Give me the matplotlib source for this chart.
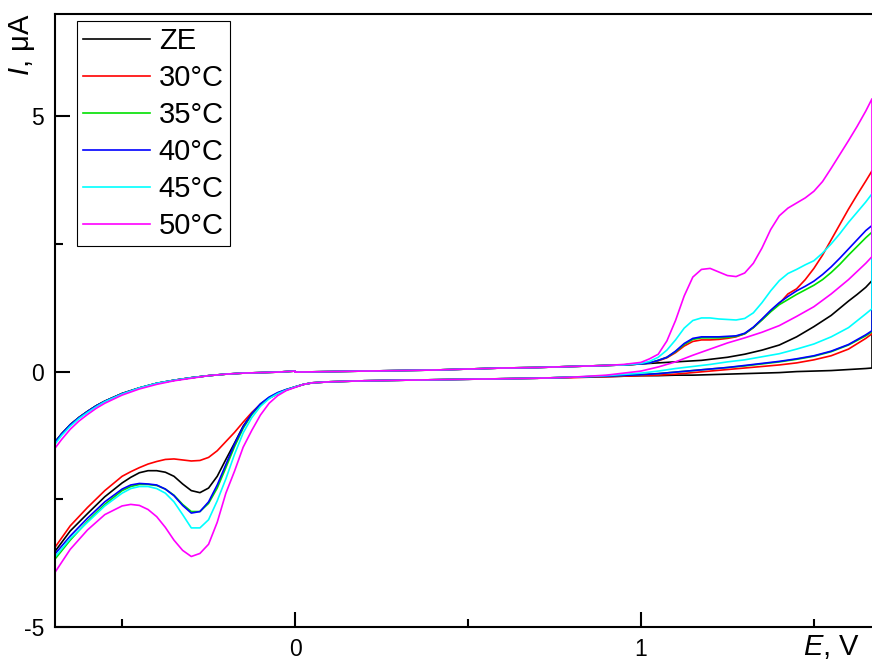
import numpy as np
import matplotlib
matplotlib.use("Agg")
import matplotlib.pyplot as plt

plt.rcParams["font.family"] = ["Liberation Sans", "DejaVu Sans"]
plt.rcParams["mathtext.fontset"] = "custom"
plt.rcParams["mathtext.it"] = "Liberation Sans:italic"
plt.rcParams["mathtext.rm"] = "Liberation Sans"
plt.rcParams["axes.unicode_minus"] = False

# potential grids (V): forward to +1.67, back down to -0.69, then return to 0
e_up = [0.0, 0.1, 0.2, 0.3, 0.4, 0.5, 0.6, 0.7, 0.8, 0.9, 0.95,
        1.0, 1.025, 1.05, 1.075, 1.1, 1.125, 1.15, 1.175, 1.2, 1.225, 1.25, 1.275,
        1.3, 1.325, 1.35, 1.375, 1.4, 1.425, 1.45, 1.475, 1.5, 1.525, 1.55, 1.575,
        1.6, 1.625, 1.65, 1.668]
e_down = [1.668, 1.65, 1.6, 1.55, 1.5, 1.45, 1.4, 1.35, 1.3, 1.25, 1.2, 1.15, 1.1,
          1.05, 1.0, 0.9, 0.8, 0.7, 0.6, 0.5, 0.4, 0.3, 0.2, 0.1, 0.05, 0.025,
          0.0, -0.025, -0.05, -0.075, -0.1, -0.125, -0.15, -0.175, -0.2, -0.225,
          -0.25, -0.275, -0.3, -0.325, -0.35, -0.375, -0.4, -0.425, -0.45, -0.475,
          -0.5, -0.55, -0.6, -0.65, -0.694]
e_back = [-0.694, -0.675, -0.65, -0.625, -0.6, -0.575, -0.55, -0.5, -0.45, -0.4,
          -0.35, -0.3, -0.25, -0.2, -0.15, -0.1, -0.05, 0.0]

labels = ["ZE", "30°C", "35°C", "40°C", "45°C", "50°C"]
colors = ["#000000", "#ff0000", "#00e000", "#0000ff", "#00ffff", "#ff00ff"]

# current (uA)
ze_up = [-0.01, 0.0, 0.01, 0.02, 0.03, 0.05, 0.07, 0.08, 0.10, 0.12, 0.13,
         0.15, 0.16, 0.17, 0.18, 0.19, 0.20, 0.21, 0.22, 0.24, 0.26, 0.28, 0.31,
         0.34, 0.38, 0.42, 0.47, 0.52, 0.60, 0.68, 0.78, 0.88, 0.99, 1.10, 1.24,
         1.38, 1.51, 1.65, 1.78]
t30_up = [-0.01, 0.0, 0.01, 0.02, 0.03, 0.05, 0.07, 0.08, 0.10, 0.12, 0.13,
          0.15, 0.17, 0.21, 0.27, 0.37, 0.50, 0.59, 0.62, 0.62, 0.63, 0.65, 0.68,
          0.74, 0.86, 1.02, 1.18, 1.33, 1.52, 1.62, 1.80, 2.02, 2.28, 2.58, 2.88,
          3.18, 3.46, 3.73, 3.93]
t35_up = [-0.01, 0.0, 0.01, 0.02, 0.03, 0.05, 0.07, 0.08, 0.10, 0.12, 0.13,
          0.15, 0.17, 0.22, 0.28, 0.39, 0.53, 0.63, 0.66, 0.66, 0.66, 0.67, 0.69,
          0.74, 0.86, 1.01, 1.17, 1.31, 1.41, 1.51, 1.60, 1.69, 1.80, 1.94, 2.10,
          2.28, 2.45, 2.62, 2.73]
t40_up = [-0.01, 0.0, 0.01, 0.02, 0.03, 0.05, 0.07, 0.08, 0.10, 0.12, 0.13,
          0.15, 0.17, 0.22, 0.28, 0.40, 0.55, 0.65, 0.68, 0.68, 0.68, 0.69, 0.70,
          0.75, 0.87, 1.03, 1.20, 1.35, 1.47, 1.58, 1.67, 1.77, 1.90, 2.05, 2.22,
          2.40, 2.58, 2.76, 2.86]
t45_up = [-0.01, 0.0, 0.01, 0.02, 0.03, 0.05, 0.07, 0.08, 0.10, 0.12, 0.13,
          0.16, 0.20, 0.28, 0.42, 0.62, 0.85, 1.00, 1.05, 1.05, 1.03, 1.02, 1.01,
          1.04, 1.15, 1.35, 1.58, 1.78, 1.92, 2.00, 2.09, 2.17, 2.32, 2.50, 2.70,
          2.92, 3.12, 3.32, 3.48]
t50_up = [-0.01, 0.0, 0.01, 0.02, 0.03, 0.05, 0.07, 0.08, 0.10, 0.12, 0.14,
          0.18, 0.25, 0.34, 0.60, 1.00, 1.48, 1.85, 2.00, 2.02, 1.95, 1.88, 1.86,
          1.93, 2.12, 2.42, 2.78, 3.05, 3.20, 3.30, 3.40, 3.53, 3.72, 3.98, 4.25,
          4.52, 4.80, 5.10, 5.34]

ze_down = [0.07, 0.06, 0.04, 0.02, 0.01, 0.00, -0.02, -0.03, -0.04, -0.05, -0.06,
           -0.07, -0.07, -0.08, -0.08, -0.10, -0.11,
           -0.13, -0.14, -0.15, -0.16, -0.17, -0.18, -0.20, -0.22, -0.25,
           -0.30, -0.36, -0.43, -0.52, -0.65, -0.82, -1.07, -1.40, -1.72, -2.05,
           -2.28, -2.37, -2.33, -2.20, -2.05, -1.97, -1.94, -1.94, -1.98, -2.07,
           -2.18, -2.45, -2.78, -3.12, -3.52]
t30_down = [0.74, 0.65, 0.44, 0.31, 0.23, 0.17, 0.13, 0.10, 0.07, 0.04, 0.01,
            -0.02, -0.05, -0.07, -0.08, -0.10, -0.12,
            -0.13, -0.14, -0.15, -0.16, -0.17, -0.18, -0.20, -0.22, -0.25,
            -0.30, -0.36, -0.43, -0.52, -0.64, -0.80, -0.99, -1.19, -1.37, -1.55,
            -1.68, -1.74, -1.75, -1.73, -1.71, -1.72, -1.76, -1.81, -1.88, -1.96,
            -2.05, -2.33, -2.66, -3.02, -3.44]
t35_down = [0.78, 0.70, 0.52, 0.39, 0.30, 0.24, 0.19, 0.15, 0.11, 0.08, 0.05,
            0.02, -0.01, -0.04, -0.06, -0.09, -0.11,
            -0.13, -0.14, -0.15, -0.16, -0.17, -0.18, -0.20, -0.22, -0.25,
            -0.30, -0.35, -0.42, -0.51, -0.64, -0.84, -1.11, -1.47, -1.88, -2.28,
            -2.58, -2.74, -2.74, -2.60, -2.42, -2.30, -2.23, -2.21, -2.21, -2.25,
            -2.33, -2.60, -2.93, -3.30, -3.67]
t40_down = [0.80, 0.72, 0.53, 0.40, 0.31, 0.25, 0.20, 0.16, 0.12, 0.08, 0.05,
            0.02, -0.01, -0.04, -0.06, -0.09, -0.11,
            -0.13, -0.14, -0.15, -0.16, -0.17, -0.18, -0.20, -0.22, -0.25,
            -0.30, -0.35, -0.41, -0.50, -0.63, -0.82, -1.08, -1.42, -1.82, -2.22,
            -2.55, -2.74, -2.77, -2.62, -2.43, -2.30, -2.22, -2.20, -2.19, -2.22,
            -2.30, -2.55, -2.87, -3.22, -3.57]
t45_down = [1.23, 1.13, 0.86, 0.68, 0.54, 0.44, 0.35, 0.29, 0.23, 0.19, 0.14,
            0.10, 0.06, 0.01, -0.03, -0.08, -0.11,
            -0.13, -0.14, -0.15, -0.16, -0.17, -0.18, -0.20, -0.22, -0.25,
            -0.30, -0.36, -0.43, -0.53, -0.68, -0.90, -1.20, -1.62, -2.10, -2.53,
            -2.90, -3.06, -3.06, -2.80, -2.55, -2.38, -2.29, -2.25, -2.25, -2.29,
            -2.38, -2.63, -2.95, -3.27, -3.63]
t50_down = [2.25, 2.12, 1.80, 1.52, 1.27, 1.08, 0.90, 0.77, 0.66, 0.56, 0.44,
            0.32, 0.19, 0.09, 0.01, -0.07, -0.11,
            -0.13, -0.14, -0.15, -0.16, -0.17, -0.18, -0.20, -0.22, -0.25,
            -0.31, -0.37, -0.47, -0.62, -0.85, -1.15, -1.48, -1.95, -2.38, -2.95,
            -3.38, -3.56, -3.62, -3.50, -3.30, -3.05, -2.84, -2.70, -2.62, -2.60,
            -2.63, -2.80, -3.10, -3.48, -3.93]

back_common = [-1.38, -1.22, -1.04, -0.90, -0.78, -0.67, -0.58, -0.43, -0.32, -0.23,
               -0.17, -0.12, -0.08, -0.05, -0.03, -0.02, -0.01, 0.01]
t45_back = [-1.42, -1.25, -1.07, -0.92, -0.80, -0.69, -0.59, -0.44, -0.32, -0.23,
            -0.17, -0.12, -0.08, -0.05, -0.03, -0.02, -0.01, 0.01]
t50_back = [-1.50, -1.33, -1.13, -0.97, -0.84, -0.72, -0.62, -0.46, -0.34, -0.25,
            -0.18, -0.13, -0.08, -0.05, -0.03, -0.02, -0.01, 0.01]

ups = [ze_up, t30_up, t35_up, t40_up, t45_up, t50_up]
downs = [ze_down, t30_down, t35_down, t40_down, t45_down, t50_down]
backs = [back_common, back_common, back_common, back_common, t45_back, t50_back]

fig = plt.figure(figsize=(8.72, 6.61), dpi=100)
ax = fig.add_axes([55 / 872, 1 - 627 / 661, 817 / 872, 613 / 661])

e_all = np.concatenate([e_up, e_down, e_back])
for lab, c, up, dn, bk in zip(labels, colors, ups, downs, backs):
    ax.plot(e_all, np.concatenate([up, dn, bk]), color=c, lw=1.2, label=lab)

ax.set_xlim(-0.694, 1.668)
ax.set_ylim(-5, 7)
ax.set_xticks([0, 1])
ax.set_xticks([-0.5, 0.5, 1.5], minor=True)
ax.set_yticks([-5, 0, 5])
ax.set_yticks([-2.5, 2.5], minor=True)
ax.tick_params(which="both", direction="in", top=False, right=False, width=1.5,
               labelsize=16.5, pad=8)
ax.tick_params(which="major", length=11)
ax.tick_params(which="minor", length=6)

ax.spines["right"].set_visible(False)
for s in ["top", "left", "bottom"]:
    ax.spines[s].set_linewidth(1.5)

fig.text(803 / 872, 1 - 655 / 661, "$E$, V", fontsize=21, ha="left", va="baseline")
fig.text(22 / 872, 1 - 14 / 661, "$I$, μA", fontsize=21, rotation=90,
         ha="center", va="top")

leg = ax.legend(loc="upper left", bbox_to_anchor=(77 / 872, 1 - 21 / 661),
                bbox_transform=fig.transFigure, fontsize=21, fancybox=False,
                edgecolor="black", framealpha=1, handlelength=2.3,
                handletextpad=0.3, labelspacing=0.31, borderpad=0.2,
                borderaxespad=0)
leg.get_frame().set_linewidth(0.8)

plt.savefig("out.png", dpi=100)
plt.close()
